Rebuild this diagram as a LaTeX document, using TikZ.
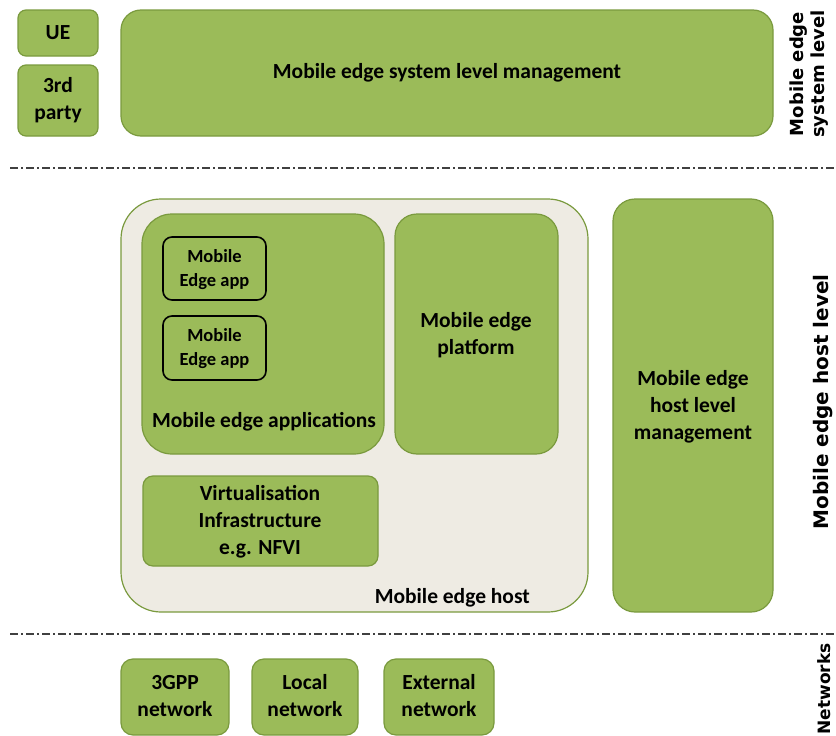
\documentclass[tikz,border=0pt]{standalone}
\usepackage{fontspec}
\setmainfont{Carlito}
\newfontfamily\sidefont{DejaVu Sans}
\definecolor{megreen}{HTML}{9BBB59}
\definecolor{meborder}{HTML}{7A9A3E}
\definecolor{mehost}{HTML}{EEEBE3}
\definecolor{meline}{HTML}{404040}
\begin{document}
\begin{tikzpicture}[x=1pt,y=-1pt,
  greenbox/.style={draw=meborder,line width=1.2pt,fill=megreen,rounded corners=#1},
  greenbox/.default=8pt,
  appbox/.style={draw=black,line width=1.6pt,fill=megreen,rounded corners=9pt},
  lbl/.style={font=\bfseries\fontsize{21.5}{27}\selectfont,align=center,text=black,inner sep=0pt},
  smalllbl/.style={font=\bfseries\fontsize{18.5}{24}\selectfont,align=center,text=black,inner sep=0pt},
  sidelbl/.style={font=\sidefont\bfseries\fontsize{20}{23}\selectfont,align=center,rotate=90,text=black,inner sep=0pt},
  levelline/.style={draw=meline,line width=1.3pt,dash pattern=on 8pt off 3pt on 2pt off 3pt}]
\useasboundingbox (0,0) rectangle (836,736);

% system level
\draw[greenbox] (18,10) rectangle (98,56);
\node[lbl] (ue) at (58,33) {UE};
\draw[greenbox] (18,65) rectangle (98,136);
\node[lbl] (third) at (58,100.5) {3rd\\party};
\draw[greenbox=20pt] (121,10) rectangle (773,136);
\node[lbl] (sysmgmt) at (447,73) {Mobile edge system level management};
\node[sidelbl,font=\sidefont\bfseries\fontsize{18}{21}\selectfont] (syslvl) at (809,74) {Mobile edge\\system level};

\draw[levelline] (10,168) -- (836,168);

% host level
\draw[draw=meborder,line width=1.2pt,fill=mehost,rounded corners=40pt] (121,199) rectangle (588,612);
\node[lbl,anchor=south east] (hostlbl) at (530,607) {Mobile edge host};

\draw[greenbox=30pt] (142,214) rectangle (384,454);
\node[lbl] (appslbl) at (264,422) {Mobile edge applications};
\draw[appbox] (163,237) rectangle (266,300);
\node[smalllbl] (app1) at (214.5,269.5) {Mobile\\Edge app};
\draw[appbox] (163,316) rectangle (266,380);
\node[smalllbl] (app2) at (214.5,349) {Mobile\\Edge app};

\draw[greenbox=22pt] (395,214) rectangle (558,454);
\node[lbl] (platform) at (476,335) {Mobile edge\\platform};

\draw[greenbox=10pt] (143,476) rectangle (378,566);
\node[lbl] (virt) at (260,522) {Virtualisation\\Infrastructure\\e.g. NFVI};

\draw[greenbox=22pt] (613,199) rectangle (773,612);
\node[lbl] (hostmgmt) at (693,407) {Mobile edge\\host level\\management};

\node[sidelbl] (hostlvl) at (823,402) {Mobile edge host level};

\draw[levelline] (10,634) -- (836,634);

% networks
\draw[greenbox=12pt] (121,659) rectangle (229,735);
\node[lbl] (n3gpp) at (175,696) {3GPP\\network};
\draw[greenbox=12pt] (252,659) rectangle (358,735);
\node[lbl] (nlocal) at (305,696) {Local\\network};
\draw[greenbox=12pt] (384,659) rectangle (494,735);
\node[lbl] (next) at (439,696) {External\\network};
\node[sidelbl,font=\sidefont\bfseries\fontsize{17}{20}\selectfont] (netlvl) at (824,689) {Networks};
\end{tikzpicture}
\end{document}
